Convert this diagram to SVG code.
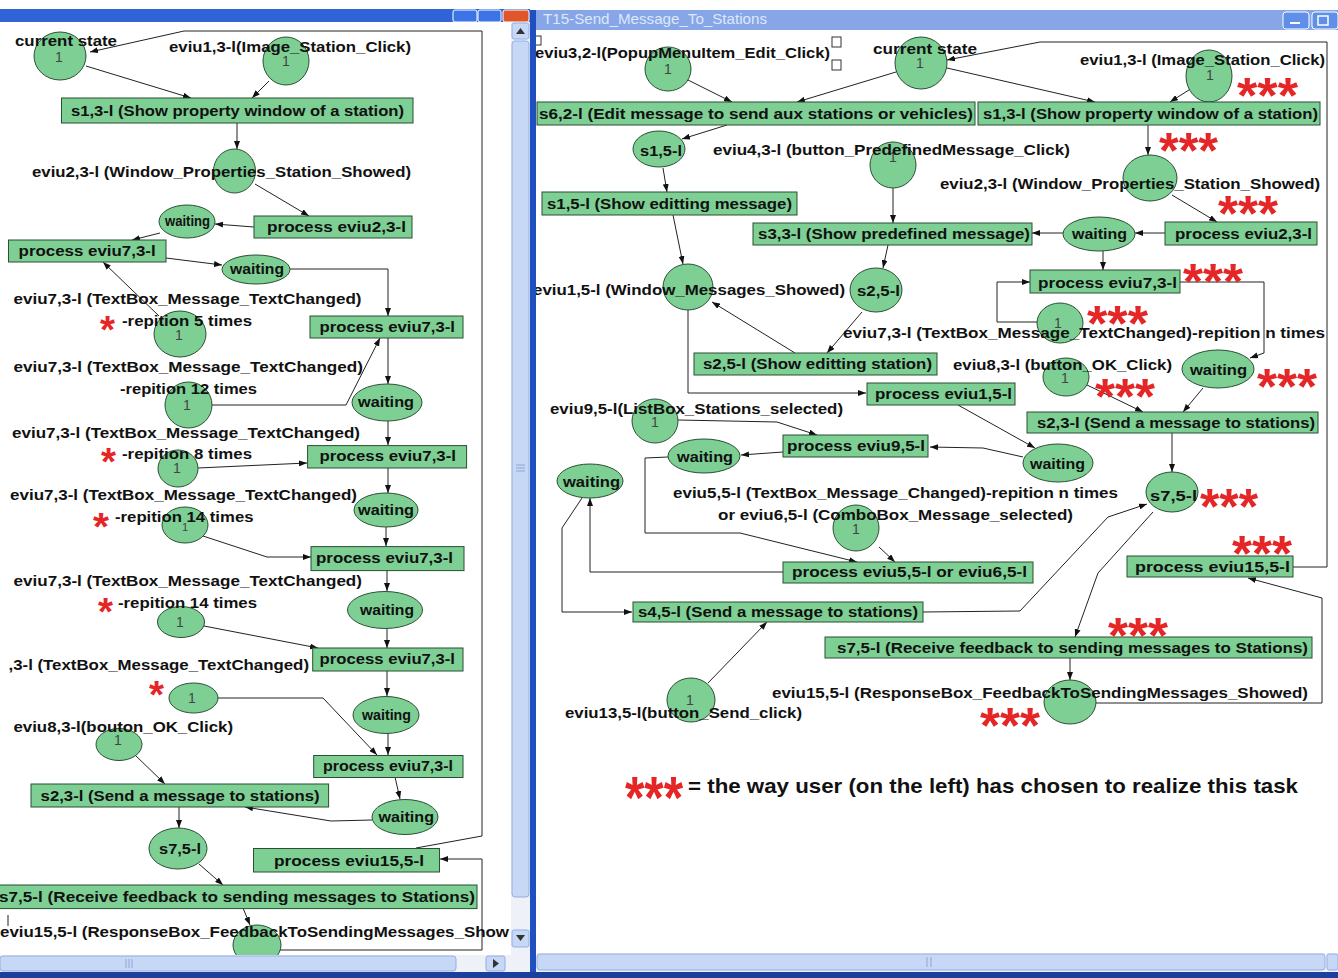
<svg xmlns="http://www.w3.org/2000/svg" width="1338" height="978" viewBox="0 0 1338 978">
<defs>
<style>
.n{fill:#7dcf94;stroke:#2b4f33;stroke-width:1}
.t{font-family:"Liberation Sans",Arial,sans-serif;font-weight:bold;font-size:15px;fill:#111}
.one{font-family:"Liberation Sans",Arial,sans-serif;font-size:14px;fill:#444;text-anchor:middle}
.c{fill:none;stroke:#222;stroke-width:1;marker-end:url(#ah)}
.cn{fill:none;stroke:#222;stroke-width:1}
.s1{font-family:"Liberation Sans",Arial,sans-serif;font-weight:bold;font-size:39px;fill:#e52626}
.s3{font-family:"Liberation Sans",Arial,sans-serif;font-weight:bold;font-size:50px;fill:#e52626}
.sb{fill:#c7d7f6;stroke:#94ade3;stroke-width:1}
.tr{fill:#eef1f8}
.h{fill:#fff;stroke:#333;stroke-width:1}
</style>
<marker id="ah" markerWidth="8" markerHeight="6" refX="8" refY="3" orient="auto" markerUnits="userSpaceOnUse"><path d="M0,0 L8,3 L0,6 z" fill="#111"/></marker>
</defs>
<rect x="0" y="0" width="1338" height="978" fill="#fff"/>
<!-- window chrome -->
<rect x="0" y="9" width="530" height="13" fill="#2f63d6"/>
<rect x="453" y="10" width="24" height="12" rx="2" fill="#3c74e8" stroke="#fff"/>
<rect x="478" y="10" width="23" height="12" rx="2" fill="#3c74e8" stroke="#fff"/>
<rect x="503" y="10" width="26" height="12" rx="2" fill="#e0562a" stroke="#fff"/>
<rect x="530" y="10" width="808" height="20" fill="#86a6e8"/>
<text x="543" y="24" class="t" textLength="224" lengthAdjust="spacingAndGlyphs" style="fill:#dfe7fb;font-weight:normal">T15-Send_Message_To_Stations</text>
<rect x="1283" y="12" width="26" height="17" rx="3" fill="#5f8fe8" stroke="#fff"/>
<line x1="1290" y1="23" x2="1300" y2="23" stroke="#fff" stroke-width="2"/>
<rect x="1312" y="12" width="26" height="17" rx="3" fill="#5f8fe8" stroke="#fff"/>
<rect x="1318" y="16" width="10" height="9" fill="none" stroke="#fff" stroke-width="1.5"/>

<g id="connectors">
<!-- left panel -->
<polyline class="c" points="416,848 482,836 482,31 184,31 90,52"/>
<line class="c" x1="86" y1="66" x2="191" y2="98"/>
<line class="c" x1="269" y1="81" x2="252" y2="98"/>
<line class="c" x1="237" y1="123" x2="237" y2="149"/>
<line class="c" x1="255" y1="184" x2="309" y2="216"/>
<line class="c" x1="254" y1="227" x2="215" y2="224"/>
<line class="c" x1="160" y1="233" x2="132" y2="240"/>
<line class="c" x1="166" y1="258" x2="222" y2="265"/>
<polyline class="c" points="290,269 388,269 388,316"/>
<line class="c" x1="159" y1="316" x2="103" y2="262"/>
<line class="c" x1="388" y1="338" x2="388" y2="384"/>
<polyline class="c" points="212,405 346,405 380,338"/>
<line class="c" x1="388" y1="421" x2="388" y2="445"/>
<line class="c" x1="198" y1="468" x2="307" y2="463"/>
<line class="c" x1="388" y1="468" x2="388" y2="493"/>
<line class="c" x1="386" y1="527" x2="386" y2="546"/>
<polyline class="c" points="203,536 267,557 311,557"/>
<line class="c" x1="387" y1="570" x2="387" y2="591"/>
<line class="c" x1="204" y1="626" x2="318" y2="648"/>
<line class="c" x1="387" y1="629" x2="387" y2="648"/>
<line class="c" x1="387" y1="671" x2="387" y2="696"/>
<polyline class="c" points="218,698 323,698 377,755"/>
<line class="c" x1="388" y1="733" x2="388" y2="755"/>
<line class="c" x1="135" y1="755" x2="165" y2="784"/>
<line class="c" x1="395" y1="777" x2="400" y2="799"/>
<polyline class="c" points="372,820 331,821 245,807"/>
<line class="c" x1="179" y1="807" x2="179" y2="828"/>
<line class="c" x1="199" y1="864" x2="223" y2="885"/>
<line class="c" x1="243" y1="908" x2="250" y2="925"/>
<polyline class="c" points="280,950 482,950 482,859 440,859"/>
<line class="cn" x1="8" y1="915" x2="8" y2="926"/>
<!-- right panel -->
<polyline class="c" points="1293,567 1327,567 1327,42 1040,42 947,60"/>
<line class="c" x1="688" y1="80" x2="732" y2="102"/>
<line class="c" x1="896" y1="72" x2="797" y2="102"/>
<line class="c" x1="947" y1="68" x2="1095" y2="102"/>
<line class="c" x1="1192" y1="88" x2="1170" y2="102"/>
<line class="c" x1="1148" y1="125" x2="1148" y2="155"/>
<line class="c" x1="1172" y1="195" x2="1217" y2="222"/>
<line class="c" x1="1165" y1="233" x2="1135" y2="233"/>
<line class="c" x1="1063" y1="233" x2="1032" y2="233"/>
<line class="c" x1="727" y1="125" x2="682" y2="139"/>
<line class="c" x1="663" y1="168" x2="667" y2="192"/>
<line class="c" x1="893" y1="188" x2="893" y2="223"/>
<line class="c" x1="673" y1="215" x2="683" y2="264"/>
<line class="c" x1="888" y1="245" x2="883" y2="268"/>
<line class="c" x1="862" y1="312" x2="827" y2="353"/>
<line class="c" x1="795" y1="353" x2="712" y2="302"/>
<polyline class="c" points="688,310 688,393 866,393"/>
<polyline class="c" points="678,420 777,422 817,435"/>
<line class="c" x1="958" y1="405" x2="1035" y2="448"/>
<polyline class="c" points="1023,457 983,448 930,447"/>
<line class="c" x1="783" y1="452" x2="741" y2="455"/>
<polyline class="c" points="668,457 645,458 645,533 740,533 857,562"/>
<line class="c" x1="879" y1="547" x2="895" y2="562"/>
<polyline class="c" points="783,572 590,572 590,498"/>
<polyline class="c" points="582,498 562,528 562,612 632,612"/>
<line class="c" x1="708" y1="683" x2="767" y2="622"/>
<polyline class="c" points="923,612 1020,611 1108,517 1147,504"/>
<line class="c" x1="1103" y1="251" x2="1103" y2="270"/>
<polyline class="c" points="1180,282 1264,282 1264,353 1250,358"/>
<polyline class="c" points="1038,322 997,322 997,282 1030,282"/>
<line class="c" x1="1087" y1="385" x2="1143" y2="412"/>
<line class="c" x1="1203" y1="388" x2="1183" y2="412"/>
<line class="c" x1="1172" y1="433" x2="1172" y2="472"/>
<polyline class="c" points="1153,512 1098,573 1075,637"/>
<line class="c" x1="1070" y1="658" x2="1070" y2="680"/>
<polyline class="c" points="1096,703 1322,703 1322,598 1248,578"/>
</g>

<!-- LEFT PANEL NODES -->
<g id="L_cs"><ellipse class="n" cx="60" cy="56" rx="26" ry="24"/><text class="one" x="59" y="62">1</text><text class="t" x="15" y="46" textLength="102" lengthAdjust="spacingAndGlyphs">current state</text></g>
<g id="L_e13"><ellipse class="n" cx="286" cy="61" rx="23" ry="24"/><text class="one" x="286" y="66">1</text><text class="t" x="169" y="52" textLength="242" lengthAdjust="spacingAndGlyphs">eviu1,3-l(Image_Station_Click)</text></g>
<g id="L_s13"><rect class="n" x="61.5" y="98" width="351.5" height="25"/><text class="t" x="71" y="116" textLength="333" lengthAdjust="spacingAndGlyphs">s1,3-l (Show property window of a station)</text></g>
<g id="L_e23"><ellipse class="n" cx="234.5" cy="171" rx="21" ry="22"/><text class="t" x="32" y="177" textLength="379" lengthAdjust="spacingAndGlyphs">eviu2,3-l (Window_Properties_Station_Showed)</text></g>
<g id="L_p23"><rect class="n" x="254" y="216" width="158" height="22"/><text class="t" x="267" y="232" textLength="139" lengthAdjust="spacingAndGlyphs">process eviu2,3-l</text></g>
<g id="L_w1"><ellipse class="n" cx="187" cy="221.5" rx="28" ry="16.5"/><text class="t" x="165" y="226" textLength="45" lengthAdjust="spacingAndGlyphs">waiting</text></g>
<g id="L_p73a"><rect class="n" x="8.5" y="240" width="157.5" height="22"/><text class="t" x="18.6" y="256" textLength="137" lengthAdjust="spacingAndGlyphs">process eviu7,3-l</text></g>
<g id="L_w2"><ellipse class="n" cx="256" cy="269.5" rx="34" ry="14.5"/><text class="t" x="230" y="274" textLength="54" lengthAdjust="spacingAndGlyphs">waiting</text></g>
<g id="L_e7a"><ellipse class="n" cx="180" cy="334" rx="26" ry="23"/><text class="one" x="179" y="340">1</text><text class="t" x="13.5" y="304" textLength="348" lengthAdjust="spacingAndGlyphs">eviu7,3-l (TextBox_Message_TextChanged)</text><text class="t" x="122" y="326" textLength="130" lengthAdjust="spacingAndGlyphs">-repition 5 times</text></g>
<g id="L_p73b"><rect class="n" x="310" y="316" width="153" height="22"/><text class="t" x="319.5" y="332" textLength="135.5" lengthAdjust="spacingAndGlyphs">process eviu7,3-l</text></g>
<g id="L_e7b"><ellipse class="n" cx="188.5" cy="405" rx="23.5" ry="23"/><text class="one" x="187" y="410">1</text><text class="t" x="13.5" y="372" textLength="349.5" lengthAdjust="spacingAndGlyphs">eviu7,3-l (TextBox_Message_TextChanged)</text><text class="t" x="120" y="394" textLength="137" lengthAdjust="spacingAndGlyphs">-repition 12 times</text></g>
<g id="L_w3"><ellipse class="n" cx="387" cy="402.5" rx="35" ry="18.5"/><text class="t" x="358" y="407" textLength="56" lengthAdjust="spacingAndGlyphs">waiting</text></g>
<g id="L_e7c"><ellipse class="n" cx="178" cy="468.5" rx="20" ry="18.5"/><text class="one" x="177" y="473">1</text><text class="t" x="12" y="438" textLength="348" lengthAdjust="spacingAndGlyphs">eviu7,3-l (TextBox_Message_TextChanged)</text><text class="t" x="122" y="459" textLength="130" lengthAdjust="spacingAndGlyphs">-repition 8 times</text></g>
<g id="L_p73c"><rect class="n" x="307.6" y="445.6" width="159" height="22.4"/><text class="t" x="319.5" y="461" textLength="136.5" lengthAdjust="spacingAndGlyphs">process eviu7,3-l</text></g>
<g id="L_w4"><ellipse class="n" cx="386" cy="510" rx="32" ry="17"/><text class="t" x="358" y="515" textLength="56" lengthAdjust="spacingAndGlyphs">waiting</text></g>
<g id="L_e7d"><ellipse class="n" cx="185" cy="525" rx="23" ry="18"/><text class="one" x="185" y="531" style="font-size:11px">1</text><text class="t" x="10" y="500" textLength="347" lengthAdjust="spacingAndGlyphs">eviu7,3-l (TextBox_Message_TextChanged)</text><text class="t" x="115" y="522" textLength="138.5" lengthAdjust="spacingAndGlyphs">-repition 14 times</text></g>
<g id="L_p73d"><rect class="n" x="311" y="546.6" width="153" height="24"/><text class="t" x="316" y="563" textLength="137" lengthAdjust="spacingAndGlyphs">process eviu7,3-l</text></g>
<g id="L_w5"><ellipse class="n" cx="385" cy="610" rx="37.5" ry="18.5"/><text class="t" x="360" y="615" textLength="54" lengthAdjust="spacingAndGlyphs">waiting</text></g>
<g id="L_e7e"><ellipse class="n" cx="181" cy="622" rx="23.5" ry="15.5"/><text class="one" x="180" y="627">1</text><text class="t" x="13.5" y="586" textLength="348.5" lengthAdjust="spacingAndGlyphs">eviu7,3-l (TextBox_Message_TextChanged)</text><text class="t" x="118" y="608" textLength="139" lengthAdjust="spacingAndGlyphs">-repition 14 times</text></g>
<g id="L_p73e"><rect class="n" x="312.7" y="648" width="150.3" height="23"/><text class="t" x="319.5" y="664" textLength="135.5" lengthAdjust="spacingAndGlyphs">process eviu7,3-l</text></g>
<g id="L_e7f"><ellipse class="n" cx="193.5" cy="698" rx="24.5" ry="15"/><text class="one" x="192" y="703">1</text><text class="t" x="8.5" y="670" textLength="300.5" lengthAdjust="spacingAndGlyphs">,3-l (TextBox_Message_TextChanged)</text></g>
<g id="L_w6"><ellipse class="n" cx="386" cy="715" rx="33" ry="18.5"/><text class="t" x="362" y="720" textLength="49" lengthAdjust="spacingAndGlyphs">waiting</text></g>
<g id="L_e83"><ellipse class="n" cx="119" cy="744.5" rx="23" ry="16"/><text class="one" x="118" y="745">1</text><text class="t" x="13.5" y="732" textLength="219.5" lengthAdjust="spacingAndGlyphs">eviu8,3-l(bouton_OK_Click)</text></g>
<g id="L_p73f"><rect class="n" x="313.7" y="755.5" width="149.3" height="22"/><text class="t" x="323" y="771" textLength="130" lengthAdjust="spacingAndGlyphs">process eviu7,3-l</text></g>
<g id="L_w7"><ellipse class="n" cx="405" cy="817" rx="33" ry="17.5"/><text class="t" x="378.6" y="822" textLength="55.4" lengthAdjust="spacingAndGlyphs">waiting</text></g>
<g id="L_s23"><rect class="n" x="31" y="784" width="297.6" height="23"/><text class="t" x="40.6" y="801" textLength="279" lengthAdjust="spacingAndGlyphs">s2,3-l (Send a message to stations)</text></g>
<g id="L_s75e"><ellipse class="n" cx="178" cy="848.5" rx="29" ry="20.5"/><text class="t" x="159" y="854" textLength="42" lengthAdjust="spacingAndGlyphs">s7,5-l</text></g>
<g id="L_p155"><rect class="n" x="253.5" y="848.5" width="186" height="23.5"/><text class="t" x="274" y="866" textLength="150" lengthAdjust="spacingAndGlyphs">process eviu15,5-l</text></g>
<g id="L_s75b"><rect class="n" x="-2" y="885" width="479" height="23.6"/><text class="t" x="-1" y="902" textLength="476" lengthAdjust="spacingAndGlyphs">s7,5-l (Receive feedback to sending messages to Stations)</text></g>
<g id="L_e155"><ellipse class="n" cx="257" cy="945" rx="24" ry="20"/><text class="t" x="0" y="937" textLength="509" lengthAdjust="spacingAndGlyphs">eviu15,5-l (ResponseBox_FeedbackToSendingMessages_Show</text></g>
<g id="L_stars">
<text class="s1" x="100" y="343" textLength="15" lengthAdjust="spacingAndGlyphs">*</text>
<text class="s1" x="101" y="475" textLength="15" lengthAdjust="spacingAndGlyphs">*</text>
<text class="s1" x="93" y="540" textLength="16" lengthAdjust="spacingAndGlyphs">*</text>
<text class="s1" x="98" y="625" textLength="15" lengthAdjust="spacingAndGlyphs">*</text>
<text class="s1" x="149" y="708" textLength="15" lengthAdjust="spacingAndGlyphs">*</text>
</g>

<!-- RIGHT PANEL NODES -->
<g id="R_popup"><ellipse class="n" cx="668" cy="69" rx="23" ry="22"/><text class="one" x="668" y="74">1</text><text class="t" x="535" y="58" textLength="295" lengthAdjust="spacingAndGlyphs">eviu3,2-l(PopupMenuItem_Edit_Click)</text></g>
<g id="R_handles"><rect class="h" x="533" y="36" width="8" height="9"/><rect class="h" x="832" y="37" width="9" height="10"/><rect class="h" x="832" y="60" width="9" height="10"/></g>
<g id="R_cs"><ellipse class="n" cx="921" cy="63" rx="26" ry="26"/><text class="one" x="920" y="68">1</text><text class="t" x="873" y="54" textLength="104" lengthAdjust="spacingAndGlyphs">current state</text></g>
<g id="R_s62"><rect class="n" x="537" y="102" width="438" height="23"/><text class="t" x="539" y="119" textLength="434" lengthAdjust="spacingAndGlyphs">s6,2-l (Edit message to send aux stations or vehicles)</text></g>
<g id="R_e13"><ellipse class="n" cx="1209" cy="76" rx="23" ry="26"/><text class="one" x="1210" y="80">1</text><text class="t" x="1080" y="65" textLength="245" lengthAdjust="spacingAndGlyphs">eviu1,3-l (Image_Station_Click)</text></g>
<g id="R_s13"><rect class="n" x="978" y="102" width="342" height="23"/><text class="t" x="983" y="119" textLength="335" lengthAdjust="spacingAndGlyphs">s1,3-l (Show property window of a station)</text></g>
<g id="R_e23"><ellipse class="n" cx="1150" cy="178" rx="27" ry="23"/><text class="t" x="940" y="189" textLength="380" lengthAdjust="spacingAndGlyphs">eviu2,3-l (Window_Properties_Station_Showed)</text></g>
<g id="R_p23"><rect class="n" x="1165" y="222" width="152" height="23"/><text class="t" x="1175" y="239" textLength="137" lengthAdjust="spacingAndGlyphs">process eviu2,3-l</text></g>
<g id="R_w1"><ellipse class="n" cx="1099" cy="234" rx="36" ry="17"/><text class="t" x="1072" y="239" textLength="55" lengthAdjust="spacingAndGlyphs">waiting</text></g>
<g id="R_s33"><rect class="n" x="753" y="223" width="279" height="22"/><text class="t" x="758" y="239" textLength="272" lengthAdjust="spacingAndGlyphs">s3,3-l (Show predefined message)</text></g>
<g id="R_s15e"><ellipse class="n" cx="659" cy="149" rx="26" ry="18"/><text class="t" x="640" y="156" textLength="42" lengthAdjust="spacingAndGlyphs">s1,5-l</text></g>
<g id="R_e43"><ellipse class="n" cx="893" cy="165" rx="23" ry="23"/><text class="one" x="893" y="162">1</text><text class="t" x="713" y="155" textLength="357" lengthAdjust="spacingAndGlyphs">eviu4,3-l (button_PredefinedMessage_Click)</text></g>
<g id="R_s15b"><rect class="n" x="542" y="192" width="255" height="23"/><text class="t" x="547" y="209" textLength="245" lengthAdjust="spacingAndGlyphs">s1,5-l (Show editting message)</text></g>
<g id="R_e15w"><ellipse class="n" cx="688" cy="287" rx="25" ry="23"/><text class="t" x="533" y="295" textLength="312" lengthAdjust="spacingAndGlyphs">eviu1,5-l (Window_Messages_Showed)</text></g>
<g id="R_s25e"><ellipse class="n" cx="876" cy="290" rx="26" ry="22"/><text class="t" x="857" y="296" textLength="43" lengthAdjust="spacingAndGlyphs">s2,5-l</text></g>
<g id="R_s25b"><rect class="n" x="694" y="353" width="243" height="22"/><text class="t" x="703" y="369" textLength="229" lengthAdjust="spacingAndGlyphs">s2,5-l (Show editting station)</text></g>
<g id="R_p15"><rect class="n" x="867" y="383" width="148" height="22"/><text class="t" x="875" y="399" textLength="137" lengthAdjust="spacingAndGlyphs">process eviu1,5-l</text></g>
<g id="R_e95"><ellipse class="n" cx="655" cy="421" rx="23" ry="22"/><text class="one" x="655" y="427">1</text><text class="t" x="550" y="414" textLength="293" lengthAdjust="spacingAndGlyphs">eviu9,5-l(ListBox_Stations_selected)</text></g>
<g id="R_p95"><rect class="n" x="783" y="435" width="145" height="22"/><text class="t" x="787" y="451" textLength="138" lengthAdjust="spacingAndGlyphs">process eviu9,5-l</text></g>
<g id="R_w2"><ellipse class="n" cx="704" cy="456" rx="36" ry="17"/><text class="t" x="677" y="462" textLength="56" lengthAdjust="spacingAndGlyphs">waiting</text></g>
<g id="R_w3"><ellipse class="n" cx="590" cy="481" rx="33" ry="17"/><text class="t" x="563" y="487" textLength="57" lengthAdjust="spacingAndGlyphs">waiting</text></g>
<g id="R_w4"><ellipse class="n" cx="1058" cy="463" rx="35" ry="19"/><text class="t" x="1030" y="469" textLength="55" lengthAdjust="spacingAndGlyphs">waiting</text></g>
<g id="R_e56"><ellipse class="n" cx="856" cy="528" rx="23" ry="23"/><text class="one" x="856" y="534">1</text><text class="t" x="673" y="498" textLength="445" lengthAdjust="spacingAndGlyphs">eviu5,5-l (TextBox_Message_Changed)-repition n times</text><text class="t" x="718" y="520" textLength="355" lengthAdjust="spacingAndGlyphs">or eviu6,5-l (ComboBox_Message_selected)</text></g>
<g id="R_p56"><rect class="n" x="783" y="562" width="250" height="21"/><text class="t" x="792" y="577" textLength="235" lengthAdjust="spacingAndGlyphs">process eviu5,5-l or eviu6,5-l</text></g>
<g id="R_s45"><rect class="n" x="633" y="602" width="290" height="20"/><text class="t" x="638" y="617" textLength="280" lengthAdjust="spacingAndGlyphs">s4,5-l (Send a message to stations)</text></g>
<g id="R_e135"><ellipse class="n" cx="691" cy="700" rx="24" ry="22"/><text class="one" x="690" y="705">1</text><text class="t" x="565" y="718" textLength="237" lengthAdjust="spacingAndGlyphs">eviu13,5-l(button_Send_click)</text></g>
<g id="R_s75b"><rect class="n" x="825" y="637" width="487" height="21"/><text class="t" x="837" y="653" textLength="471" lengthAdjust="spacingAndGlyphs">s7,5-l (Receive feedback to sending messages to Stations)</text></g>
<g id="R_e155"><ellipse class="n" cx="1070" cy="702" rx="26" ry="22"/><text class="t" x="772" y="698" textLength="536" lengthAdjust="spacingAndGlyphs">eviu15,5-l (ResponseBox_FeedbackToSendingMessages_Showed)</text></g>
<g id="R_p155"><rect class="n" x="1127" y="556" width="166" height="21"/><text class="t" x="1135" y="572" textLength="155" lengthAdjust="spacingAndGlyphs">process eviu15,5-l</text></g>
<g id="R_s75e"><ellipse class="n" cx="1172" cy="492" rx="26" ry="20"/><text class="t" x="1150" y="501" textLength="47" lengthAdjust="spacingAndGlyphs">s7,5-l</text></g>
<g id="R_p73"><rect class="n" x="1030" y="270" width="150" height="23"/><text class="t" x="1038" y="288" textLength="139" lengthAdjust="spacingAndGlyphs">process eviu7,3-l</text></g>
<g id="R_e73"><ellipse class="n" cx="1060" cy="323" rx="23" ry="20"/><text class="one" x="1058" y="328">1</text><text class="t" x="843" y="338" textLength="482" lengthAdjust="spacingAndGlyphs">eviu7,3-l (TextBox_Message_TextChanged)-repition n times</text></g>
<g id="R_w5"><ellipse class="n" cx="1218" cy="369" rx="36" ry="19"/><text class="t" x="1190" y="375" textLength="57" lengthAdjust="spacingAndGlyphs">waiting</text></g>
<g id="R_e83"><ellipse class="n" cx="1066" cy="377" rx="23" ry="19"/><text class="one" x="1065" y="383">1</text><text class="t" x="953" y="370" textLength="219" lengthAdjust="spacingAndGlyphs">eviu8,3-l (button_OK_Click)</text></g>
<g id="R_s23"><rect class="n" x="1027" y="412" width="291" height="21"/><text class="t" x="1037" y="428" textLength="278" lengthAdjust="spacingAndGlyphs">s2,3-l (Send a message to stations)</text></g>
<g id="R_stars">
<text class="s3" x="1237" y="113" textLength="61" lengthAdjust="spacingAndGlyphs">***</text>
<text class="s3" x="1159" y="168" textLength="59" lengthAdjust="spacingAndGlyphs">***</text>
<text class="s3" x="1218" y="231" textLength="60" lengthAdjust="spacingAndGlyphs">***</text>
<text class="s3" x="1183" y="299" textLength="60" lengthAdjust="spacingAndGlyphs">***</text>
<text class="s3" x="1087" y="341" textLength="61" lengthAdjust="spacingAndGlyphs">***</text>
<text class="s3" x="1095" y="414" textLength="60" lengthAdjust="spacingAndGlyphs">***</text>
<text class="s3" x="1257" y="404" textLength="60" lengthAdjust="spacingAndGlyphs">***</text>
<text class="s3" x="1200" y="524" textLength="58" lengthAdjust="spacingAndGlyphs">***</text>
<text class="s3" x="1232" y="571" textLength="60" lengthAdjust="spacingAndGlyphs">***</text>
<text class="s3" x="1108" y="653" textLength="60" lengthAdjust="spacingAndGlyphs">***</text>
<text class="s3" x="980" y="743" textLength="60" lengthAdjust="spacingAndGlyphs">***</text>
</g>
<g id="legend">
<text class="s3" x="625" y="818" textLength="58" lengthAdjust="spacingAndGlyphs" style="font-size:60px">***</text>
<text class="t" x="688" y="793" textLength="610" lengthAdjust="spacingAndGlyphs" style="font-size:21px">= the way user (on the left) has chosen to realize this task</text>
</g>

<!-- scrollbars and borders -->
<rect x="530" y="10" width="6" height="968" fill="#2050c0"/>
<rect class="tr" x="511" y="22" width="19" height="933"/>
<rect class="sb" x="512" y="23" width="17" height="16" rx="2"/>
<path d="M516,34 L520.5,28 L525,34 z" fill="#333"/>
<rect class="sb" x="512" y="41" width="17" height="856" rx="3"/>
<path d="M516,465 H525 M516,468 H525 M516,471 H525" stroke="#8ea6d6" stroke-width="1"/>
<rect class="sb" x="512" y="930" width="17" height="17" rx="2"/>
<path d="M516,935 L520.5,941 L525,935 z" fill="#333"/>
<rect class="tr" x="0" y="955" width="530" height="17"/>
<rect class="sb" x="0" y="956" width="456" height="15" rx="3"/>
<path d="M126,959 V968 M129,959 V968 M132,959 V968" stroke="#8ea6d6" stroke-width="1"/>
<rect class="sb" x="486" y="956" width="19" height="15" rx="2"/>
<path d="M493,959 L499,963.5 L493,968 z" fill="#333"/>
<rect class="tr" x="536" y="953" width="802" height="19"/>
<rect class="sb" x="537" y="954" width="788" height="16" rx="3"/>
<path d="M927,957 V967 M931,957 V967" stroke="#8ea6d6" stroke-width="1"/>
<rect class="sb" x="1327" y="954" width="11" height="16" rx="2"/>
<rect x="0" y="972" width="1338" height="6" fill="#1b3f9c"/>
</svg>
